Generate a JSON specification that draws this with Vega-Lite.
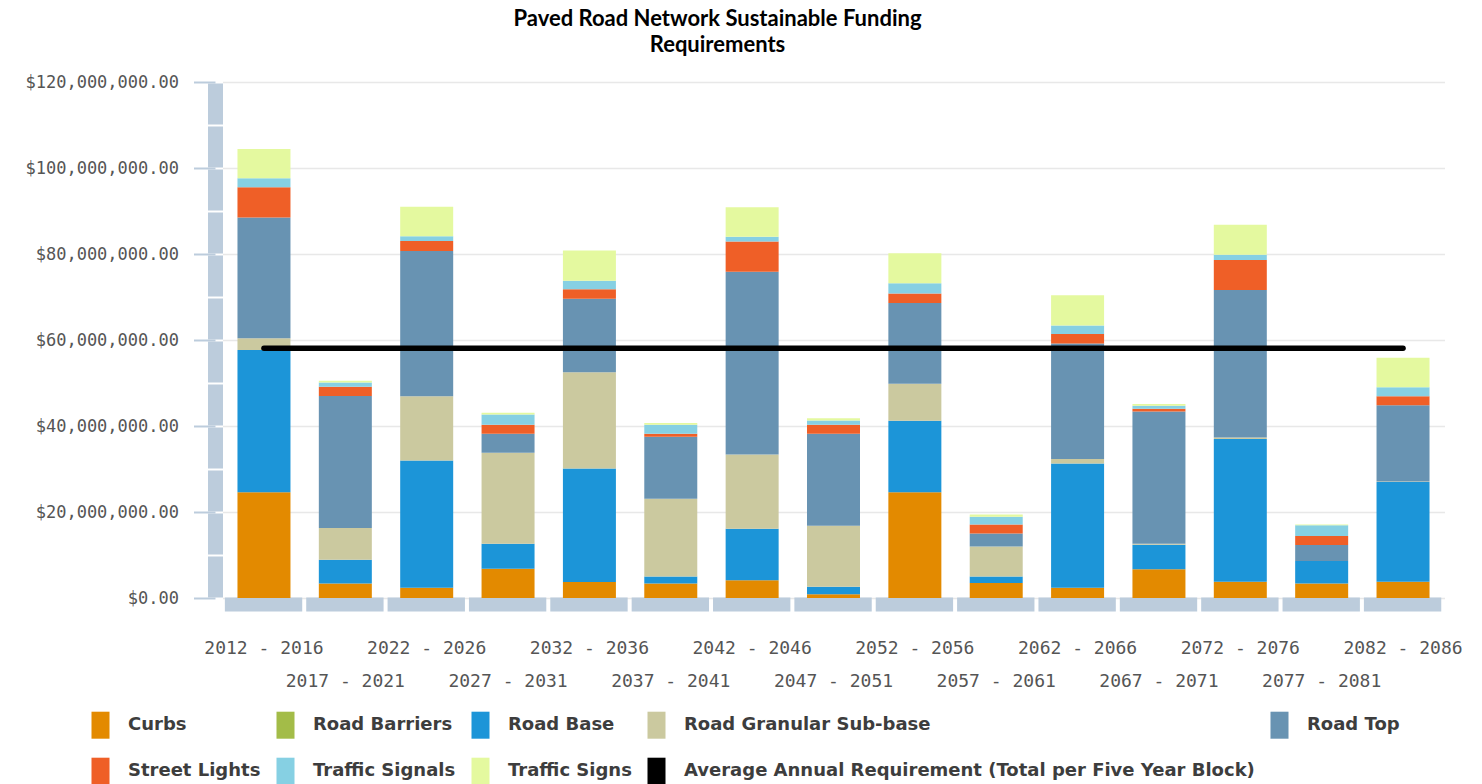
{
  "$schema": "https://vega.github.io/schema/vega-lite/v6.json",
  "width": 1222,
  "height": 516,
  "autosize": {"type": "pad"},
  "padding": {"left": 24.5, "top": 8, "right": 5, "bottom": 0},
  "background": "white",
  "config": {"view": {"stroke": null}},
  "title": {
    "text": ["Paved Road Network Sustainable Funding", "Requirements"],
    "font": "Lato",
    "fontWeight": "bold",
    "fontSize": 22,
    "lineHeight": 26,
    "color": "#000000",
    "anchor": "middle",
    "frame": "group",
    "dx": -116,
    "offset": 16
  },
  "datasets": {
    "bars": [
      {"period": "2012 - 2016", "component": "Curbs", "value": 24600000},
      {"period": "2012 - 2016", "component": "Road Base", "value": 33100000},
      {"period": "2012 - 2016", "component": "Road Granular Sub-base", "value": 2700000},
      {"period": "2012 - 2016", "component": "Road Top", "value": 28100000},
      {"period": "2012 - 2016", "component": "Street Lights", "value": 7000000},
      {"period": "2012 - 2016", "component": "Traffic Signals", "value": 2100000},
      {"period": "2012 - 2016", "component": "Traffic Signs", "value": 6800000},

      {"period": "2017 - 2021", "component": "Curbs", "value": 3400000},
      {"period": "2017 - 2021", "component": "Road Base", "value": 5500000},
      {"period": "2017 - 2021", "component": "Road Granular Sub-base", "value": 7400000},
      {"period": "2017 - 2021", "component": "Road Top", "value": 30700000},
      {"period": "2017 - 2021", "component": "Street Lights", "value": 2100000},
      {"period": "2017 - 2021", "component": "Traffic Signals", "value": 1000000},
      {"period": "2017 - 2021", "component": "Traffic Signs", "value": 400000},

      {"period": "2022 - 2026", "component": "Curbs", "value": 2400000},
      {"period": "2022 - 2026", "component": "Road Base", "value": 29600000},
      {"period": "2022 - 2026", "component": "Road Granular Sub-base", "value": 14900000},
      {"period": "2022 - 2026", "component": "Road Top", "value": 33800000},
      {"period": "2022 - 2026", "component": "Street Lights", "value": 2300000},
      {"period": "2022 - 2026", "component": "Traffic Signals", "value": 1100000},
      {"period": "2022 - 2026", "component": "Traffic Signs", "value": 6900000},

      {"period": "2027 - 2031", "component": "Curbs", "value": 6800000},
      {"period": "2027 - 2031", "component": "Road Base", "value": 5800000},
      {"period": "2027 - 2031", "component": "Road Granular Sub-base", "value": 21200000},
      {"period": "2027 - 2031", "component": "Road Top", "value": 4400000},
      {"period": "2027 - 2031", "component": "Street Lights", "value": 2100000},
      {"period": "2027 - 2031", "component": "Traffic Signals", "value": 2400000},
      {"period": "2027 - 2031", "component": "Traffic Signs", "value": 400000},

      {"period": "2032 - 2036", "component": "Curbs", "value": 3700000},
      {"period": "2032 - 2036", "component": "Road Base", "value": 26400000},
      {"period": "2032 - 2036", "component": "Road Granular Sub-base", "value": 22400000},
      {"period": "2032 - 2036", "component": "Road Top", "value": 17100000},
      {"period": "2032 - 2036", "component": "Street Lights", "value": 2200000},
      {"period": "2032 - 2036", "component": "Traffic Signals", "value": 2000000},
      {"period": "2032 - 2036", "component": "Traffic Signs", "value": 7000000},

      {"period": "2037 - 2041", "component": "Curbs", "value": 3400000},
      {"period": "2037 - 2041", "component": "Road Base", "value": 1600000},
      {"period": "2037 - 2041", "component": "Road Granular Sub-base", "value": 18100000},
      {"period": "2037 - 2041", "component": "Road Top", "value": 14400000},
      {"period": "2037 - 2041", "component": "Street Lights", "value": 700000},
      {"period": "2037 - 2041", "component": "Traffic Signals", "value": 2100000},
      {"period": "2037 - 2041", "component": "Traffic Signs", "value": 400000},

      {"period": "2042 - 2046", "component": "Curbs", "value": 4100000},
      {"period": "2042 - 2046", "component": "Road Base", "value": 12000000},
      {"period": "2042 - 2046", "component": "Road Granular Sub-base", "value": 17300000},
      {"period": "2042 - 2046", "component": "Road Top", "value": 42500000},
      {"period": "2042 - 2046", "component": "Street Lights", "value": 7000000},
      {"period": "2042 - 2046", "component": "Traffic Signals", "value": 1100000},
      {"period": "2042 - 2046", "component": "Traffic Signs", "value": 6900000},

      {"period": "2047 - 2051", "component": "Curbs", "value": 900000},
      {"period": "2047 - 2051", "component": "Road Base", "value": 1700000},
      {"period": "2047 - 2051", "component": "Road Granular Sub-base", "value": 14200000},
      {"period": "2047 - 2051", "component": "Road Top", "value": 21400000},
      {"period": "2047 - 2051", "component": "Street Lights", "value": 2100000},
      {"period": "2047 - 2051", "component": "Traffic Signals", "value": 1000000},
      {"period": "2047 - 2051", "component": "Traffic Signs", "value": 500000},

      {"period": "2052 - 2056", "component": "Curbs", "value": 24600000},
      {"period": "2052 - 2056", "component": "Road Base", "value": 16600000},
      {"period": "2052 - 2056", "component": "Road Granular Sub-base", "value": 8600000},
      {"period": "2052 - 2056", "component": "Road Top", "value": 18800000},
      {"period": "2052 - 2056", "component": "Street Lights", "value": 2200000},
      {"period": "2052 - 2056", "component": "Traffic Signals", "value": 2400000},
      {"period": "2052 - 2056", "component": "Traffic Signs", "value": 7000000},

      {"period": "2057 - 2061", "component": "Curbs", "value": 3500000},
      {"period": "2057 - 2061", "component": "Road Base", "value": 1500000},
      {"period": "2057 - 2061", "component": "Road Granular Sub-base", "value": 7000000},
      {"period": "2057 - 2061", "component": "Road Top", "value": 3000000},
      {"period": "2057 - 2061", "component": "Street Lights", "value": 2100000},
      {"period": "2057 - 2061", "component": "Traffic Signals", "value": 1800000},
      {"period": "2057 - 2061", "component": "Traffic Signs", "value": 500000},

      {"period": "2062 - 2066", "component": "Curbs", "value": 2400000},
      {"period": "2062 - 2066", "component": "Road Base", "value": 28900000},
      {"period": "2062 - 2066", "component": "Road Granular Sub-base", "value": 1000000},
      {"period": "2062 - 2066", "component": "Road Top", "value": 26900000},
      {"period": "2062 - 2066", "component": "Street Lights", "value": 2200000},
      {"period": "2062 - 2066", "component": "Traffic Signals", "value": 2000000},
      {"period": "2062 - 2066", "component": "Traffic Signs", "value": 7000000},

      {"period": "2067 - 2071", "component": "Curbs", "value": 6700000},
      {"period": "2067 - 2071", "component": "Road Base", "value": 5700000},
      {"period": "2067 - 2071", "component": "Road Granular Sub-base", "value": 200000},
      {"period": "2067 - 2071", "component": "Road Top", "value": 30800000},
      {"period": "2067 - 2071", "component": "Street Lights", "value": 600000},
      {"period": "2067 - 2071", "component": "Traffic Signals", "value": 700000},
      {"period": "2067 - 2071", "component": "Traffic Signs", "value": 400000},

      {"period": "2072 - 2076", "component": "Curbs", "value": 3800000},
      {"period": "2072 - 2076", "component": "Road Base", "value": 33200000},
      {"period": "2072 - 2076", "component": "Road Granular Sub-base", "value": 300000},
      {"period": "2072 - 2076", "component": "Road Top", "value": 34300000},
      {"period": "2072 - 2076", "component": "Street Lights", "value": 7000000},
      {"period": "2072 - 2076", "component": "Traffic Signals", "value": 1200000},
      {"period": "2072 - 2076", "component": "Traffic Signs", "value": 7000000},

      {"period": "2077 - 2081", "component": "Curbs", "value": 3400000},
      {"period": "2077 - 2081", "component": "Road Base", "value": 5200000},
      {"period": "2077 - 2081", "component": "Road Top", "value": 3700000},
      {"period": "2077 - 2081", "component": "Street Lights", "value": 2100000},
      {"period": "2077 - 2081", "component": "Traffic Signals", "value": 2500000},
      {"period": "2077 - 2081", "component": "Traffic Signs", "value": 200000},

      {"period": "2082 - 2086", "component": "Curbs", "value": 3800000},
      {"period": "2082 - 2086", "component": "Road Base", "value": 23200000},
      {"period": "2082 - 2086", "component": "Road Granular Sub-base", "value": 100000},
      {"period": "2082 - 2086", "component": "Road Top", "value": 17700000},
      {"period": "2082 - 2086", "component": "Street Lights", "value": 2100000},
      {"period": "2082 - 2086", "component": "Traffic Signals", "value": 2100000},
      {"period": "2082 - 2086", "component": "Traffic Signs", "value": 6900000}
    ],
    "avg": [
      {"period": "2012 - 2016", "value": 58100000},
      {"period": "2017 - 2021", "value": 58100000},
      {"period": "2022 - 2026", "value": 58100000},
      {"period": "2027 - 2031", "value": 58100000},
      {"period": "2032 - 2036", "value": 58100000},
      {"period": "2037 - 2041", "value": 58100000},
      {"period": "2042 - 2046", "value": 58100000},
      {"period": "2047 - 2051", "value": 58100000},
      {"period": "2052 - 2056", "value": 58100000},
      {"period": "2057 - 2061", "value": 58100000},
      {"period": "2062 - 2066", "value": 58100000},
      {"period": "2067 - 2071", "value": 58100000},
      {"period": "2072 - 2076", "value": 58100000},
      {"period": "2077 - 2081", "value": 58100000},
      {"period": "2082 - 2086", "value": 58100000}
    ]
  },
  "layer": [
    {
      "data": {"name": "bars"},
      "mark": {"type": "bar"},
      "encoding": {
        "x": {
          "field": "period",
          "type": "nominal",
          "sort": null,
          "scale": {"paddingInner": 0.3486, "paddingOuter": 0.184},
          "axis": {
            "title": null,
            "labelAngle": 0,
            "offset": 6,
            "domainWidth": 14,
            "domainColor": "#BCCCDC",
            "domainDash": [77.36, 4],
            "domainDashOffset": 79.5,
            "ticks": false,
            "tickSize": 0,
            "labelPadding": 35,
            "labelFont": "DejaVu Sans Mono",
            "labelFontSize": 18,
            "labelColor": "#555555",
            "labelOverlap": false,
            "labelBound": false,
            "labelLineHeight": 33,
            "labelBaseline": "top",
            "labelExpr": "(toNumber(substring(datum.label,0,4)) - 2012) % 10 == 5 ? ['', datum.label] : datum.label"
          }
        },
        "y": {
          "field": "value",
          "type": "quantitative",
          "scale": {"domain": [0, 120000000], "nice": false},
          "axis": {
            "title": null,
            "values": [0, 20000000, 40000000, 60000000, 80000000, 100000000, 120000000],
            "format": "$,.2f",
            "offset": 7.5,
            "domainWidth": 15,
            "domainColor": "#BCCCDC",
            "domainDash": [41, 2],
            "domainDashOffset": 42,
            "tickSize": 21.5,
            "tickColor": "#BCCCDC",
            "tickWidth": 2,
            "labelPadding": 15,
            "labelFont": "DejaVu Sans Mono",
            "labelFontSize": 17,
            "labelColor": "#555555",
            "gridColor": "#E8E8E8",
            "gridWidth": 1.5
          }
        },
        "order": {"field": "component", "type": "nominal", "sort": "ascending"},
        "color": {
          "field": "component",
          "type": "nominal",
          "scale": {
            "domain": ["Curbs", "Road Barriers", "Road Base", "Road Granular Sub-base", "Road Top", "Street Lights", "Traffic Signals", "Traffic Signs", "Average Annual Requirement (Total per Five Year Block)"],
            "range": ["#E38A00", "#A3BC48", "#1C95D8", "#CBC99F", "#6893B2", "#EF5F27", "#86D0E3", "#E4F99F", "#000000"]
          },
          "legend": {
            "title": null,
            "orient": "none",
            "legendX": -135.5,
            "legendY": 629.7,
            "direction": "horizontal",
            "columns": 5,
            "symbolType": "M-0.667,-1H0.667V1H-0.667Z",
            "symbolSize": 729,
            "symbolStrokeWidth": 0,
            "symbolOpacity": 1,
            "labelFont": "DejaVu Sans",
            "labelFontWeight": "bold",
            "labelFontSize": 18,
            "labelColor": "#3D3D3D",
            "labelOffset": 14,
            "labelLimit": 0,
            "columnPadding": 11,
            "rowPadding": 19,
            "padding": 0
          }
        }
      }
    },
    {
      "data": {"name": "avg"},
      "mark": {"type": "line", "color": "#000000", "strokeWidth": 5.5, "strokeCap": "round"},
      "encoding": {
        "x": {"field": "period", "type": "nominal", "sort": null},
        "y": {"field": "value", "type": "quantitative"}
      }
    }
  ]
}
